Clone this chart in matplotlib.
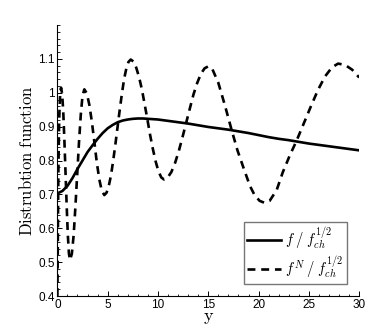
import matplotlib
matplotlib.use("Agg")
import matplotlib.pyplot as plt
from matplotlib.ticker import MultipleLocator

plt.rcParams['mathtext.fontset'] = 'cm'
plt.rcParams['font.family'] = ['Liberation Sans', 'DejaVu Sans']

# solid curve f / f_ch^{1/2}
y_f = [0, 0.5, 1, 1.5, 2, 2.5, 3, 3.5, 4, 4.5, 5, 5.5, 6, 6.5, 7, 7.5, 8, 8.5, 9,
       10, 11, 12, 13, 14, 15, 16, 17, 18, 19, 20, 21, 22, 23, 24, 25, 26, 27, 28, 29, 30]
f_vals = [0.703, 0.710, 0.725, 0.748, 0.775, 0.800, 0.825, 0.845, 0.864, 0.881, 0.895,
          0.905, 0.913, 0.918, 0.921, 0.923, 0.924, 0.924, 0.923,
          0.921, 0.917, 0.913, 0.909, 0.904, 0.899, 0.895, 0.891, 0.886, 0.881, 0.875,
          0.869, 0.864, 0.860, 0.855, 0.850, 0.846, 0.842, 0.838, 0.834, 0.830]

# dashed curve f^N / f_ch^{1/2}
y_fN = [0, 0.03, 0.06, 0.10, 0.15, 0.20, 0.26, 0.32, 0.37,
        0.48, 0.59, 0.70, 0.815, 0.93, 1.04, 1.15, 1.26,
        1.44, 1.62, 1.79, 1.97, 2.15, 2.33, 2.50, 2.68,
        2.93, 3.18, 3.43, 3.68, 3.92, 4.17, 4.42, 4.67,
        4.89, 5.11, 5.33, 5.54, 5.76, 5.98, 6.20, 6.42, 6.63, 6.85, 7.07, 7.29,
        7.57, 7.84, 8.12, 8.40, 8.67, 8.95, 9.22, 9.50, 9.78, 10.05, 10.33, 10.6,
        10.97, 11.33, 11.70, 12.07, 12.43, 12.80, 13.17, 13.53, 13.90, 14.27, 14.63, 15.0,
        15.4, 15.99, 16.65, 17.32, 17.9, 18.47, 19.14, 19.6, 20.1, 20.6,
        21.1, 21.8, 22.4, 23.1, 23.77, 24.5, 25.2, 25.9, 26.6, 27.3, 27.9,
        28.6, 29.3, 30.0]
fN_vals = [0.40, 0.50, 0.62, 0.76, 0.87, 0.94, 0.985, 1.008, 1.015,
           0.996, 0.941, 0.858, 0.761, 0.663, 0.580, 0.525, 0.506,
           0.525, 0.580, 0.662, 0.758, 0.854, 0.936, 0.991, 1.010,
           0.998, 0.964, 0.914, 0.854, 0.794, 0.744, 0.710, 0.698,
           0.705, 0.725, 0.756, 0.798, 0.846, 0.898, 0.950, 0.998, 1.040, 1.071, 1.091, 1.098,
           1.092, 1.074, 1.046, 1.010, 0.967, 0.921, 0.875, 0.833, 0.796, 0.768, 0.750, 0.744,
           0.750, 0.766, 0.793, 0.828, 0.868, 0.911, 0.954, 0.995, 1.029, 1.056, 1.072, 1.078,
           1.070, 1.030, 0.963, 0.890, 0.830, 0.781, 0.725, 0.698, 0.681, 0.675,
           0.681, 0.713, 0.765, 0.815, 0.858, 0.910, 0.960, 1.008, 1.048, 1.075, 1.086,
           1.082, 1.068, 1.045]

x_ticks = [0, 5, 10, 15, 20, 25, 30]
y_ticks = [0.4, 0.5, 0.6, 0.7, 0.8, 0.9, 1.0, 1.1]
y_tick_labels = ['0.4', '0.5', '0.6', '0.7', '0.8', '0.9', '1', '1.1']

fig = plt.figure(figsize=(3.85, 3.33), dpi=100)
ax = fig.add_axes([0.149, 0.111, 0.784, 0.814])

ax.plot(y_f, f_vals, color='black', lw=1.9, label=r'$f\;/\;f_{ch}^{1/2}$',
        solid_joinstyle='round')
ax.plot(y_fN, fN_vals, color='black', lw=1.9, dashes=(3.0, 2.2),
        label=r'$f^{N}\;/\;f_{ch}^{1/2}$')

ax.set_xlim(0, 30)
ax.set_ylim(0.4, 1.2)
ax.set_xticks(x_ticks)
ax.set_yticks(y_ticks)
ax.set_yticklabels(y_tick_labels)
ax.xaxis.set_minor_locator(MultipleLocator(1))
ax.yaxis.set_minor_locator(MultipleLocator(0.02))
ax.tick_params(which='both', direction='in', top=False, right=False, labelsize=8.5, pad=2)
ax.tick_params(which='major', length=3.5, width=0.7)
ax.tick_params(which='minor', length=1.8, width=0.6)
for s in ['top', 'right']:
    ax.spines[s].set_visible(False)
for s in ['left', 'bottom']:
    ax.spines[s].set_linewidth(0.8)

ax.set_xlabel(r'$\mathrm{y}$', fontsize=13, labelpad=-1)
ax.set_ylabel(r'$\mathrm{Distrubtion\ function}$', fontsize=12, labelpad=2)

leg = ax.legend(loc='lower right', bbox_to_anchor=(0.96, 0.045), fontsize=10.5,
                frameon=True, fancybox=False, handlelength=2.3, handletextpad=0.3,
                borderpad=0.25, labelspacing=0.2, borderaxespad=0)
leg.get_frame().set_edgecolor('#555555')
leg.get_frame().set_linewidth(1.0)

fig.savefig('out.png', dpi=100)
